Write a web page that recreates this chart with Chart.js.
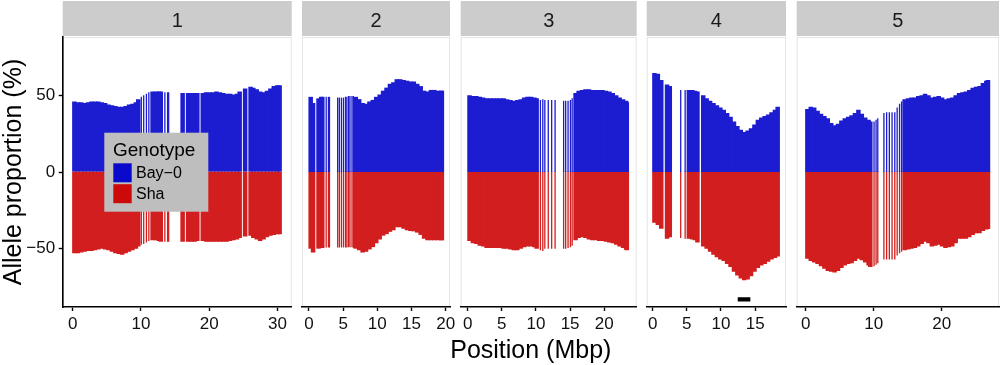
<!DOCTYPE html>
<html><head><meta charset="utf-8">
<script src="https://cdn.jsdelivr.net/npm/chart.js@4.4.1/dist/chart.umd.min.js"></script>
<style>
html,body{margin:0;padding:0;background:#fff;}
#wrap{position:relative;width:1000px;height:365px;overflow:hidden;background:#fff;}
#wrap canvas{position:absolute;top:0;}
#xtitle{position:absolute;left:330.8px;width:400px;top:336.7px;text-align:center;font:25px/25px "Liberation Sans",Arial,sans-serif;color:#000;white-space:nowrap;}
</style></head><body>
<div id="wrap"><div id="xtitle">Position (Mbp)</div></div>
<script>
// ---------------- DATA ----------------
const chromosomes = ['1','2','3','4','5'];
const genotypes = ['Bay\u22120','Sha'];
const legendTitle = 'Genotype';
const yTicks = [-50, 0, 50];
const chr1Ticks = [0,10,20,30];
const chr2Ticks = [0,5,10,15,20];
const chr3Ticks = [0,5,10,15,20];
const chr4Ticks = [0,5,10,15];
const chr5Ticks = [0,10,20];

// chromosome 1
const chr1Pos = [0.25,0.75,1.25,1.75,2.25,2.75,3.25,3.75,4.25,4.75,5.25,5.75,6.25,6.75,7.25,7.75,8.25,8.75,9.25,9.6,
  11.7,12.2,12.6,12.9,
  16.1,16.9,17.35,17.85,18.25,19.05,19.55,20.05,20.55,21.05,21.55,22.05,22.55,23.05,23.55,24.05,24.45,25.25,26.05,26.45,26.95,27.45,27.95,28.45,28.95,29.45,29.95,30.3];
const chr1Bay = [46,45.5,45.5,45,45.5,46,46,46,45.5,45,44,43.5,43,42.5,42.5,43,44,44.5,45.5,47.5,
  52.5,52.5,52.5,52.5,
  51.5,51.5,51.5,51.5,51.5,51.5,52,52,52,52.5,52,51.5,51,51,50.5,51,52.5,54.5,55.5,55,54,52.5,52,53,54.5,56,56.5,56.5];
const chr1Sha = [-53,-53,-52.5,-52,-51.5,-51.5,-51,-50.5,-50,-50.5,-51,-52,-53,-53.5,-54,-53,-52,-51,-50,-48.5,
  -44.5,-44.5,-45,-45.5,
  -45.5,-45.5,-45.5,-45.5,-45,-45,-45.5,-45.5,-45.5,-45.5,-45.5,-45.5,-45.5,-45,-44.5,-44,-43,-42,-41.5,-43,-44,-45,-44,-42.5,-41.5,-41,-40.5,-40.5];
const chr1SparsePos = [10.05,10.4,10.8,11.15,13.5,13.9,14.05];
const chr1SparseBay = [49,50,51,52,52,52,52];
const chr1SparseSha = [-47.5,-47,-46,-45,-45.5,-45.5,-45.5];

// chromosome 2
const chr2Pos = [0.25,0.6,1.4,1.8,1.95,
  6.85,7.35,7.85,8.35,8.85,9.35,9.85,10.35,10.85,11.35,11.85,12.35,12.85,13.35,13.85,14.35,14.85,15.35,15.85,16.35,16.85,17.35,17.85,18.35,18.85,19.35,19.45];
const chr2Bay = [49,45,48,49,49,
  49,47.5,45,44.5,46,47,49,50.5,53,55,57.5,58.5,60.5,60.5,60,59.5,59,59,57.5,56,53,52.5,53.5,53.5,53,53,53];
const chr2Sha = [-50,-52.5,-50,-49.5,-49.5,
  -50,-51,-52.5,-52,-50.5,-49,-46.5,-44,-41.5,-40.5,-39,-38,-36,-36,-37,-38,-38.5,-38.7,-39.5,-41,-43.5,-44.5,-44.5,-44.5,-44.5,-44.5,-44.5];
const chr2SparsePos = [2.52,2.85,3.0,4.2,4.45,4.75,5.05,5.35,5.55,5.8,6.0,6.3,6.5];
const chr2SparseBay = [49,49,49,48.5,48.5,48.5,48.5,49,49,49.5,49.5,49.5,49.5];
const chr2SparseSha = [-49.2,-49.2,-49.2,-49.2,-49.2,-49.2,-49.2,-49.2,-49.2,-49,-49,-49,-49.5];

// chromosome 3
const chr3Pos = [0.27,0.77,1.27,1.77,2.27,2.77,3.27,3.77,4.27,4.77,5.27,5.77,6.27,6.77,7.27,7.77,8.27,8.77,9.27,9.77,10.1,
  15.8,16.25,16.75,17.25,17.75,18.25,18.75,19.25,19.75,20.25,20.75,21.25,21.75,22.25,22.75,23.2,23.3];
const chr3Bay = [50,49.5,49.5,49,48.5,48,48,48,48,48,48,47.5,47,46.5,47,47.5,48.5,49,49,48.5,48,
  51.5,53,53.5,54,54,53.5,53.5,53.5,53.5,53,52.5,51.5,50,48.5,47.5,46.5,45.5];
const chr3Sha = [-45,-46.5,-47,-48,-48.5,-49.5,-49.5,-49.5,-49.5,-49.5,-50,-50,-50.5,-51,-51,-50,-49,-48.5,-48.5,-49,-50,
  -44.5,-43,-42.5,-43,-44,-44.5,-44.5,-45,-45,-45.5,-46,-46.5,-47.5,-48.5,-49.5,-50.5,-51];
const chr3SparsePos = [10.65,11.0,11.3,11.8,12.3,12.8,14.05,14.35,14.7,15.05,15.3];
const chr3SparseBay = [47,47.5,47,47,47,47,46.5,46.5,46.5,47,48];
const chr3SparseSha = [-51,-51.5,-50,-50,-50,-50,-50,-50,-49.5,-49,-48];

// chromosome 4
const chr4Pos = [0.25,0.75,1.25,2.1,2.5,5.3,5.8,6.2,6.55,
  7.4,7.9,8.4,8.9,9.4,9.9,10.4,10.9,11.4,11.9,12.4,12.9,13.4,13.9,14.4,14.9,15.4,15.9,16.4,16.9,17.4,17.9,18.3];
const chr4Bay = [64.5,64,60,57,56,53.5,53.5,53,52.5,
  50,48,46.5,45,43.5,42,40.5,38.5,36,33,30,27.5,26,27,28.5,31,34,35.5,36.5,37.5,39,40.5,42.5];
const chr4Sha = [-33,-34.5,-37,-43.5,-42.5,-43.5,-44,-44.5,-46,
  -48.5,-50,-52,-54,-55.5,-57,-58,-60,-62,-65,-67.5,-69.5,-70.5,-70,-68,-65,-62.5,-61,-60,-58.5,-57,-56,-55];
const chr4SparsePos = [4.1,4.75];
const chr4SparseBay = [53.5,53.5];
const chr4SparseSha = [-43,-43.5];
const chr4MarkerX = [12.45,14.3];
const chr4MarkerY = [-83,-83];

// chromosome 5
const chr5Pos = [0.25,0.75,1.25,1.75,2.25,2.75,3.25,3.75,4.25,4.75,5.25,5.75,6.25,6.75,7.25,7.75,8.25,8.75,9.25,9.5,
  14.55,15.05,15.55,16.05,16.55,17.05,17.55,18.05,18.55,19.05,19.55,20.05,20.55,21.05,21.55,22.05,22.55,23.05,23.55,24.05,24.55,25.05,25.55,26.05,26.55,26.8];
const chr5Bay = [41,42.5,42,40,38,36.5,35,32,30.5,31.5,33.5,35,36,37,38.5,40.5,38,35.5,34,33,
  47.5,48,48.5,48.5,49.5,50,51,50,48.5,49,49.5,48.5,47.5,48,48.5,50,51.5,52,52.5,53.5,55,55.5,56,58,59.5,60];
const chr5Sha = [-56.5,-58,-59,-60,-61.5,-63,-64.5,-65,-65.5,-64.5,-62.5,-61,-60,-59.5,-58,-56.5,-57.5,-59,-61,-62,
  -51,-50.5,-50,-49.5,-48.5,-47,-45.5,-46.5,-48.5,-48,-47.5,-48.5,-49.5,-49,-48.5,-46.5,-43.5,-43.5,-43.5,-42.5,-41,-40,-40,-38.5,-37.5,-37.2];
const chr5SparsePos = [10.05,10.35,10.6,11.5,11.9,12.3,12.7,13.1,13.45,13.8,14.1];
const chr5SparseBay = [33,34,35,38.5,39,39,39,39,42,44.5,46];
const chr5SparseSha = [-61.5,-60.5,-59.5,-57,-57,-57,-57,-57,-54.5,-53,-52];

// ---------------- LAYOUT / STYLE ----------------
const FONT = '"Liberation Sans", Arial, sans-serif';
const BLUE = 'rgb(28,28,208)';
const RED = 'rgb(210,30,30)';
const BLUE_KEY = 'rgb(10,10,204)';
const RED_KEY = 'rgb(205,10,10)';
const SEAM_OVERLAP = 0.4; // red bars start a hair above zero so no white seam shows
const panels = [
  {area:[62.7,291.7], xMin:-1.46, xMax:32.07, ticks:chr1Ticks, pos:chr1Pos, bay:chr1Bay, sha:chr1Sha, sp:chr1SparsePos, spBay:chr1SparseBay, spSha:chr1SparseSha},
  {area:[302,450],    xMin:-1.02, xMax:20.64, ticks:chr2Ticks, pos:chr2Pos, bay:chr2Bay, sha:chr2Sha, sp:chr2SparsePos, spBay:chr2SparseBay, spSha:chr2SparseSha},
  {area:[460.7,636.7],xMin:-1.02, xMax:24.75, ticks:chr3Ticks, pos:chr3Pos, bay:chr3Bay, sha:chr3Sha, sp:chr3SparsePos, spBay:chr3SparseBay, spSha:chr3SparseSha},
  {area:[646.7,786],  xMin:-0.88, xMax:19.52, ticks:chr4Ticks, pos:chr4Pos, bay:chr4Bay, sha:chr4Sha, sp:chr4SparsePos, spBay:chr4SparseBay, spSha:chr4SparseSha, marker:true},
  {area:[796.7,999],  xMin:-1.32, xMax:28.42, ticks:chr5Ticks, pos:chr5Pos, bay:chr5Bay, sha:chr5Sha, sp:chr5SparsePos, spBay:chr5SparseBay, spSha:chr5SparseSha}
];

const stripPlugin = {
  id:'strip',
  beforeDraw(chart, args, opts){
    const {ctx, chartArea:{left,right,top,bottom}} = chart;
    ctx.save();
    ctx.fillStyle = '#cccccc';
    ctx.fillRect(left, 1, right-left, 35);
    ctx.fillStyle = '#1a1a1a';
    ctx.font = '20px ' + FONT;
    ctx.textAlign = 'center';
    ctx.textBaseline = 'alphabetic';
    ctx.fillText(opts.text, (left+right)/2, 27.3);
    ctx.strokeStyle = '#e4e4e4';
    ctx.lineWidth = 1;
    ctx.strokeRect(left+0.5, top+0.5, right-left-1, bottom-top-1);
    ctx.restore();
  }
};

const legendPlugin = {
  id:'genoLegend',
  afterDraw(chart, args, opts){
    if(!opts.show) return;
    const ctx = chart.ctx;
    ctx.save();
    ctx.fillStyle = '#bebebe';
    ctx.fillRect(104.3, 132.7, 104, 79);
    ctx.fillStyle = '#000';
    ctx.font = '19px ' + FONT;
    ctx.textAlign = 'left';
    ctx.textBaseline = 'alphabetic';
    ctx.fillText(legendTitle, 113, 155.5);
    const cols = [BLUE_KEY, RED_KEY];
    const ys = [163.3, 184.2];
    ctx.font = '16px ' + FONT;
    genotypes.forEach((g,i)=>{
      ctx.fillStyle = cols[i];
      ctx.fillRect(113.3, ys[i], 18.4, 19);
      ctx.fillStyle = '#000';
      ctx.textBaseline = 'middle';
      ctx.fillText(g, 136, ys[i] + 10);
    });
    ctx.restore();
  }
};

const fmt = v => v < 0 ? '\u2212' + Math.abs(v) : String(v);
const wrap = document.getElementById('wrap');

panels.forEach((p, idx) => {
  const cv = document.createElement('canvas');
  const first = idx === 0;
  const cLeft = first ? 0 : Math.floor(p.area[0]) - 15;
  const cRight = Math.min(1000, Math.ceil(p.area[1]) + 15);
  cv.width = cRight - cLeft; cv.height = 365;
  cv.style.left = cLeft + 'px';
  cv.style.width = (cRight - cLeft) + 'px';
  cv.style.height = '365px';
  wrap.insertBefore(cv, document.getElementById('xtitle'));

  const mk = (xs, ys) => xs.map((x,i)=>({x:x, y:ys[i]}));
  const datasets = [
    {label:genotypes[0], data:mk(p.pos,p.bay), backgroundColor:BLUE, barThickness:4.5, grouped:false, inflateAmount:0, borderWidth:0},
    {label:genotypes[1], data:mk(p.pos,p.sha), backgroundColor:RED, barThickness:4.5, grouped:false, inflateAmount:0, borderWidth:0, base:SEAM_OVERLAP},
    {label:genotypes[0], data:mk(p.sp,p.spBay), backgroundColor:BLUE, barThickness:1.3, grouped:false, inflateAmount:0, borderWidth:0},
    {label:genotypes[1], data:mk(p.sp,p.spSha), backgroundColor:RED, barThickness:1.3, grouped:false, inflateAmount:0, borderWidth:0, base:SEAM_OVERLAP}
  ];
  if (p.marker) {
    datasets.push({type:'line', data:mk(chr4MarkerX, chr4MarkerY), borderColor:'#000', borderWidth:4.3, borderCapStyle:'butt', pointRadius:0, fill:false});
  }

  new Chart(cv, {
    type:'bar',
    data:{datasets},
    plugins:[stripPlugin, legendPlugin],
    options:{
      responsive:false, animation:false, devicePixelRatio:1, events:[],
      layout:{padding:{left: first ? 0 : p.area[0]-cLeft, right: cRight - p.area[1], top:37, bottom:0}},
      plugins:{legend:{display:false}, tooltip:{enabled:false},
        strip:{text:chromosomes[idx]}, genoLegend:{show:first}},
      scales:{
        x:{type:'linear', min:p.xMin, max:p.xMax, offset:false,
          afterBuildTicks:s=>{ s.ticks = p.ticks.map(v=>({value:v})); },
          afterFit:s=>{ s.height = 58; s.paddingLeft = 0; s.paddingRight = 0; },
          grid:{display:true, drawOnChartArea:false, drawTicks:true, tickLength:4, tickWidth:1.4, tickColor:'#000', offset:false},
          border:{display:true, color:'#000', width:1.6},
          ticks:{font:{family:FONT, size:17}, color:'#111', padding:3, maxRotation:0, minRotation:0, autoSkip:false, callback:fmt}
        },
        y:{display:first, min:-88, max:88,
          afterBuildTicks:s=>{ s.ticks = yTicks.map(v=>({value:v})); },
          afterFit:s=>{ s.width = first ? 62.7 : 0; s.paddingTop = 0; s.paddingBottom = 0; },
          grid:{display:true, drawOnChartArea:false, drawTicks:true, tickLength:4, tickWidth:1.4, tickColor:'#000'},
          border:{display:true, color:'#000', width:1.6},
          ticks:{font:{family:FONT, size:17}, color:'#111', padding:3.5, callback:fmt},
          title:{display:true, text:'Allele proportion (%)', color:'#000', font:{family:FONT, size:25, lineHeight:1.1}, padding:0}
        }
      }
    }
  });
});
</script>
</body></html>
